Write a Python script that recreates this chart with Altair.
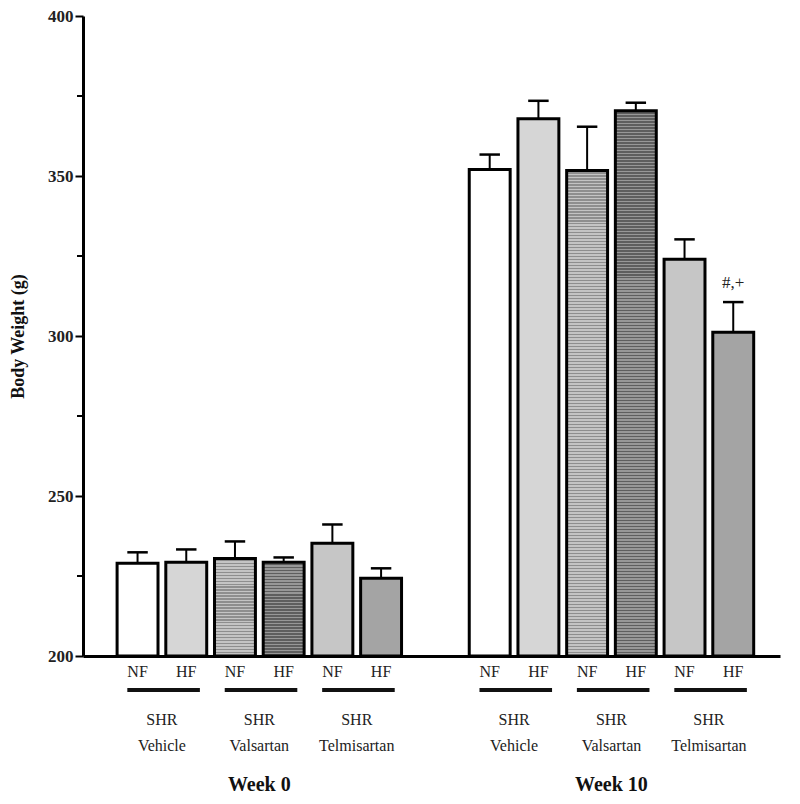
import altair as alt
import pandas as pd

# ---------------- data ----------------
weeks = ["Week 0"] * 6 + ["Week 10"] * 6
treatments = ["Vehicle", "Vehicle", "Valsartan", "Valsartan", "Telmisartan", "Telmisartan"] * 2
diets = ["NF", "HF"] * 6
means = [229.0, 229.3, 230.5, 229.3, 235.2, 224.3,
         352.0, 367.9, 351.7, 370.4, 324.0, 301.2]
sems = [3.4, 4.0, 5.3, 1.5, 5.9, 3.1,
        4.7, 5.6, 13.7, 2.5, 6.2, 9.4]
annotations = [""] * 11 + ["#,+"]
y_ticks = [200, 250, 300, 350, 400]
minor_ticks = [225, 275, 325, 375]

# ---------------- styling ----------------
fills = ["#ffffff", "#d6d6d6", "stripeA", "stripeB", "#c6c6c6", "#a4a4a4"] * 2
stripe_colors = {"stripeA": ("#c4c4c4", "#8e8e8e"), "stripeB": ("#979797", "#5e5e5e")}
FONT = "Liberation Serif"
W, H = 697, 640
YMIN, YMAX = 200, 400
XMAX = 14.31
HALF = 0.42

pos = [1.12 + i for i in range(6)] + [8.35 + i for i in range(6)]
df = pd.DataFrame(dict(week=weeks, treatment=treatments, diet=diets,
                       mean=means, sem=sems, fill=fills, note=annotations, pos=pos))
df["x1"] = df["pos"] - HALF
df["x2"] = df["pos"] + HALF
df["top"] = df["mean"] + df["sem"]
df["c1"] = df["pos"] - 0.21
df["c2"] = df["pos"] + 0.21

xscale = alt.Scale(domain=[0, XMAX], nice=False, zero=False)
yscale = alt.Scale(domain=[YMIN, YMAX], nice=False, zero=False)

xaxis = alt.Axis(labels=False, ticks=False, grid=False, title=None,
                 domainColor="black", domainWidth=3)
yaxis = alt.Axis(values=y_ticks, grid=False, title="Body Weight (g)",
                 labelFont=FONT, labelFontWeight="bold", labelFontSize=17,
                 labelColor="#222", tickColor="black", tickWidth=2, tickSize=8,
                 domainColor="black", domainWidth=3, labelPadding=2,
                 titleFont=FONT, titleFontWeight="bold", titleFontSize=18,
                 titleColor="#111", titlePadding=20)

base = alt.Chart(df)

solid = base.transform_filter(
    "datum.fill != 'stripeA' && datum.fill != 'stripeB'"
).mark_bar(stroke="black", strokeWidth=3).encode(
    x=alt.X("x1:Q", scale=xscale, axis=xaxis),
    x2="x2:Q",
    y=alt.Y("mean:Q", scale=yscale, axis=yaxis),
    y2=alt.datum(YMIN),
    fill=alt.Fill("fill:N", scale=None),
)

layers = [solid]
for i, row in df.iterrows():
    if row["fill"] not in stripe_colors:
        continue
    light, dark = stripe_colors[row["fill"]]
    hpx = (row["mean"] - YMIN) / (YMAX - YMIN) * H
    n = max(1, int(round(hpx / 3.0)))
    stops = []
    for k in range(n):
        stops.append(alt.GradientStop(offset=k / n, color=light))
        stops.append(alt.GradientStop(offset=(k + 0.5) / n, color=light))
        stops.append(alt.GradientStop(offset=(k + 0.5) / n, color=dark))
        stops.append(alt.GradientStop(offset=(k + 1) / n, color=dark))
    grad = alt.Gradient(gradient="linear", stops=stops, x1=0, x2=0, y1=0, y2=1)
    layer = alt.Chart(df).transform_filter(f"datum.pos == {row['pos']}").mark_bar(
        stroke="black", strokeWidth=3, fill=grad
    ).encode(
        x=alt.X("x1:Q", scale=xscale),
        x2="x2:Q",
        y=alt.Y("mean:Q", scale=yscale),
        y2=alt.datum(YMIN),
    )
    layers.append(layer)

err = base.mark_rule(color="black", strokeWidth=2).encode(
    x=alt.X("pos:Q", scale=xscale), y=alt.Y("mean:Q", scale=yscale), y2="top:Q"
)
cap = base.mark_rule(color="black", strokeWidth=2.5).encode(
    x=alt.X("c1:Q", scale=xscale), x2="c2:Q", y=alt.Y("top:Q", scale=yscale)
)
note = base.mark_text(font=FONT, fontSize=17, dy=-19, color="#222").encode(
    x=alt.X("pos:Q", scale=xscale), y=alt.Y("top:Q", scale=yscale), text="note:N"
)

minor_df = pd.DataFrame({"v": minor_ticks})
minor = alt.Chart(minor_df).mark_rule(color="black", strokeWidth=2).encode(
    y=alt.Y("v:Q", scale=yscale), x=alt.value(-6), x2=alt.value(0)
)

diet_lbl = base.mark_text(font=FONT, fontSize=16, color="#222", baseline="middle").encode(
    x=alt.X("pos:Q", scale=xscale), y=alt.value(H + 16), text="diet:N"
)

grp = df.groupby(["week", "treatment"], sort=False).agg(
    lo=("pos", "min"), hi=("pos", "max")).reset_index()
grp["u1"] = grp["lo"] - 0.21
grp["u2"] = grp["hi"] + 0.28
grp["mid"] = (grp["lo"] + grp["hi"]) / 2
grp["label"] = "SHR\n" + grp["treatment"]

underline = alt.Chart(grp).mark_rule(color="#111", strokeWidth=4).encode(
    x=alt.X("u1:Q", scale=xscale), x2="u2:Q", y=alt.value(H + 34)
)
grp_lbl = alt.Chart(grp).mark_text(font=FONT, fontSize=16, color="#222",
                                   lineBreak="\n", lineHeight=26, baseline="middle").encode(
    x=alt.X("mid:Q", scale=xscale), y=alt.value(H + 64), text="label:N"
)

wk = df.groupby("week", sort=False).agg(lo=("pos", "min"), hi=("pos", "max")).reset_index()
wk["mid"] = (wk["lo"] + wk["hi"]) / 2
wk_lbl = alt.Chart(wk).mark_text(font=FONT, fontSize=20, fontWeight="bold", color="#111",
                                 baseline="middle").encode(
    x=alt.X("mid:Q", scale=xscale), y=alt.value(H + 129), text="week:N"
)

chart = alt.layer(
    *layers, err, cap, note, minor, diet_lbl, underline, grp_lbl, wk_lbl
).properties(
    width=W, height=H,
    autosize=alt.AutoSizeParams(type="none"),
    padding={"left": 75, "top": 8, "right": 12, "bottom": 140},
).configure(
    background="white", view=alt.ViewConfig(stroke="transparent", strokeWidth=0)
)

chart.save("out.html", embed_options={"renderer": "svg", "actions": False})
